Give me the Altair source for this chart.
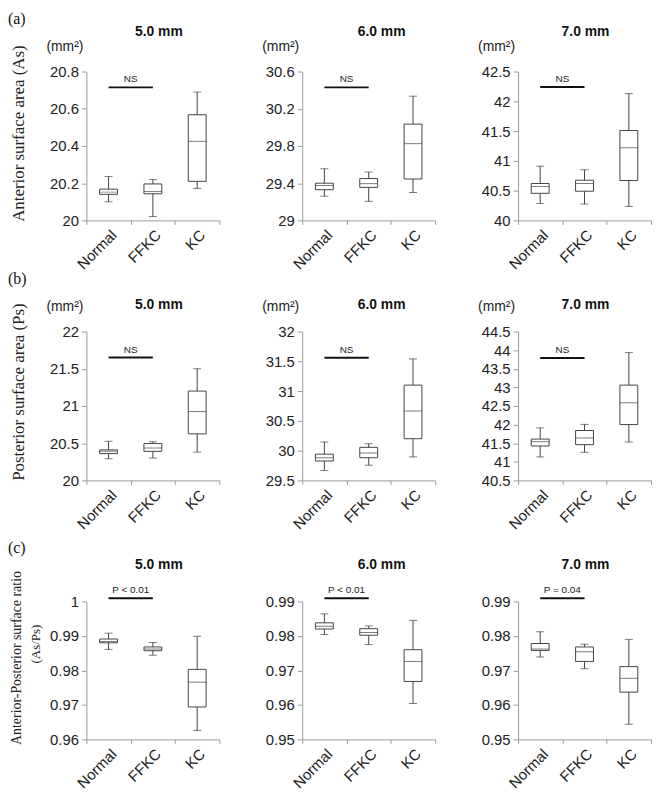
import altair as alt
import pandas as pd

groups = ["Normal", "FFKC", "KC"]
sizes = ["5.0 mm", "6.0 mm", "7.0 mm"]

# five-number summaries per group: [min, q1, median, q3, max]
as_5 = [[20.100, 20.140, 20.152, 20.168, 20.236],
        [20.021, 20.143, 20.155, 20.196, 20.220],
        [20.172, 20.210, 20.425, 20.568, 20.690]]
as_6 = [[29.260, 29.330, 29.375, 29.400, 29.555],
        [29.205, 29.355, 29.395, 29.450, 29.520],
        [29.300, 29.445, 29.825, 30.035, 30.335]]
as_7 = [[40.285, 40.455, 40.570, 40.620, 40.910],
        [40.275, 40.490, 40.620, 40.675, 40.850],
        [40.235, 40.670, 41.220, 41.510, 42.130]]
ps_5 = [[20.290, 20.360, 20.390, 20.410, 20.525],
        [20.300, 20.390, 20.435, 20.495, 20.520],
        [20.380, 20.625, 20.925, 21.200, 21.500]]
ps_6 = [[29.665, 29.825, 29.880, 29.940, 30.145],
        [29.755, 29.880, 29.960, 30.055, 30.115],
        [29.895, 30.200, 30.665, 31.100, 31.540]]
ps_7 = [[41.130, 41.425, 41.540, 41.610, 41.910],
        [41.255, 41.460, 41.640, 41.840, 42.005],
        [41.530, 42.000, 42.585, 43.060, 43.935]]
ratio_5 = [[0.9861, 0.9880, 0.9884, 0.9891, 0.9908],
           [0.9844, 0.9857, 0.9862, 0.9868, 0.9881],
           [0.9626, 0.9694, 0.9766, 0.9803, 0.9899]]
ratio_6 = [[0.9804, 0.9820, 0.9828, 0.9838, 0.9864],
           [0.9775, 0.9802, 0.9810, 0.9821, 0.9829],
           [0.9604, 0.9668, 0.9726, 0.9760, 0.9845]]
ratio_7 = [[0.9739, 0.9758, 0.9762, 0.9778, 0.9812],
           [0.9705, 0.9726, 0.9754, 0.9768, 0.9776],
           [0.9544, 0.9637, 0.9677, 0.9711, 0.9790]]

# y-axis tick values
ticks_as_5 = [20, 20.2, 20.4, 20.6, 20.8]
ticks_as_6 = [29, 29.4, 29.8, 30.2, 30.6]
ticks_as_7 = [40, 40.5, 41, 41.5, 42, 42.5]
ticks_ps_5 = [20, 20.5, 21, 21.5, 22]
ticks_ps_6 = [29.5, 30, 30.5, 31, 31.5, 32]
ticks_ps_7 = [40.5, 41, 41.5, 42, 42.5, 43, 43.5, 44, 44.5]
ticks_ratio_5 = [0.96, 0.97, 0.98, 0.99, 1.0]
ticks_ratio_6 = [0.95, 0.96, 0.97, 0.98, 0.99]
ticks_ratio_7 = [0.95, 0.96, 0.97, 0.98, 0.99]

# significance brackets (Normal vs FFKC)
bracket_as = [20.715, 30.43, 42.24]
bracket_ps = [21.65, 31.56, 43.79]
bracket_ratio = [1.0009, 0.9909, 0.9909]
sig_as = ["NS", "NS", "NS"]
sig_ps = ["NS", "NS", "NS"]
sig_ratio = ["P < 0.01", "P < 0.01", "P = 0.04"]

row_titles = ["Anterior surface area (As)", "Posterior surface area (Ps)"]
ratio_title = ["Anterior-Posterior surface ratio", "(As/Ps)"]
row_labels = ["(a)", "(b)", "(c)"]

SANS = "Liberation Sans"
SERIF = "Liberation Serif"
AXIS_GREY = "#9a9a9a"
BOX = "#454545"
W = 134
H = 150
title_dx = [73, 80, 68]


def note(text, x, y, **kw):
    return alt.Chart(pd.DataFrame({"t": [text]})).mark_text(**kw).encode(
        text="t:N", x=alt.value(x), y=alt.value(y))


def panel(summary, ticks, bval, btext, col, row):
    df = pd.DataFrame({
        "group": groups,
        "lo": [s[0] for s in summary],
        "q1": [s[1] for s in summary],
        "med": [s[2] for s in summary],
        "q3": [s[3] for s in summary],
        "hi": [s[4] for s in summary],
    })
    h = 149 if row == 2 else H
    top = 10 if row == 2 else 0
    xscale = alt.Scale(type="band", paddingInner=0, paddingOuter=0, domain=groups)
    xaxis = alt.Axis(title=None, labelAngle=-45, tickBand="extent", tickSize=4,
                     domainColor=AXIS_GREY, tickColor=AXIS_GREY, labelColor="#222",
                     labelFont=SANS, labelFontSize=15, labelPadding=3)
    yscale = alt.Scale(domain=[ticks[0], ticks[-1]], nice=False, zero=False,
                       range=[h, top])
    yaxis = alt.Axis(title=None, values=ticks, tickCount=len(ticks) + 2,
                     format=".6~g", grid=False, tickSize=5,
                     labelOverlap=False, labelFlush=False,
                     domainColor=AXIS_GREY, tickColor=AXIS_GREY, labelColor="#222",
                     labelFont=SANS, labelFontSize=15, labelPadding=3)
    X = alt.X("group:N", scale=xscale, axis=xaxis, sort=groups)
    base = alt.Chart(df)
    whisk = base.mark_rule(color=BOX, strokeWidth=1).encode(
        x=X, y=alt.Y("lo:Q", scale=yscale, axis=yaxis), y2="hi:Q")
    cap_lo = base.mark_tick(color=BOX, size=8, thickness=1, orient="horizontal").encode(
        x=X, y="lo:Q")
    cap_hi = base.mark_tick(color=BOX, size=8, thickness=1, orient="horizontal").encode(
        x=X, y="hi:Q")
    box = base.mark_bar(size=18, fill="white", stroke=BOX, strokeWidth=1).encode(
        x=X, y="q1:Q", y2="q3:Q")
    med = base.mark_tick(color=BOX, size=18, thickness=1, orient="horizontal").encode(
        x=X, y="med:Q")

    bdf = pd.DataFrame({"a": [groups[0]], "b": [groups[1]], "y": [bval], "t": [btext]})
    bracket = alt.Chart(bdf).mark_rule(color="#111", strokeWidth=2).encode(
        x=alt.X("a:N", scale=xscale), x2="b:N", y="y:Q")
    btxt = alt.Chart(bdf).mark_text(font=SANS, fontSize=10, baseline="bottom",
                                    dy=-3, color="#222").encode(
        x=alt.X("a:N", scale=xscale, bandPosition=1), y="y:Q", text="t:N")

    layers = [whisk, cap_lo, cap_hi, box, med, bracket, btxt]

    title_y = -40 if row == 0 else -26.5
    layers.append(note(sizes[col], title_dx[col], title_y, font=SANS, fontSize=14,
                       fontWeight="bold", color="#111", baseline="middle"))
    if row < 2:
        layers.append(note("(mm\u00b2)", -3, -25, font=SANS, fontSize=14, color="#222",
                           align="right", baseline="middle"))
    if col == 0:
        lab_y = -61 if row < 2 else -52
        layers.append(note(row_labels[row], -79, lab_y, font=SERIF, fontSize=16,
                           color="#111", align="left", baseline="top"))
        if row < 2:
            cy = 62.5 if row == 0 else 61
            layers.append(note(row_titles[row], -68, cy, font=SERIF, fontSize=17,
                               color="#222", angle=270, baseline="middle"))
        else:
            layers.append(note(ratio_title[0], -70, 67, font=SERIF, fontSize=14,
                               color="#222", angle=270, baseline="middle"))
            layers.append(note(ratio_title[1], -51, 53, font=SERIF, fontSize=13,
                               color="#222", angle=270, baseline="middle"))
    return alt.layer(*layers).properties(width=W, height=h)


panels = [
    panel(as_5, ticks_as_5, bracket_as[0], sig_as[0], 0, 0),
    panel(as_6, ticks_as_6, bracket_as[1], sig_as[1], 1, 0),
    panel(as_7, ticks_as_7, bracket_as[2], sig_as[2], 2, 0),
    panel(ps_5, ticks_ps_5, bracket_ps[0], sig_ps[0], 0, 1),
    panel(ps_6, ticks_ps_6, bracket_ps[1], sig_ps[1], 1, 1),
    panel(ps_7, ticks_ps_7, bracket_ps[2], sig_ps[2], 2, 1),
    panel(ratio_5, ticks_ratio_5, bracket_ratio[0], sig_ratio[0], 0, 2),
    panel(ratio_6, ticks_ratio_6, bracket_ratio[1], sig_ratio[1], 1, 2),
    panel(ratio_7, ticks_ratio_7, bracket_ratio[2], sig_ratio[2], 2, 2),
]

chart = alt.concat(*panels, columns=3, spacing={"row": 112, "column": 83.5},
                   bounds="flush").properties(padding=0).configure_view(stroke=None)

chart.save("out.html", embed_options={"renderer": "svg", "actions": False})
